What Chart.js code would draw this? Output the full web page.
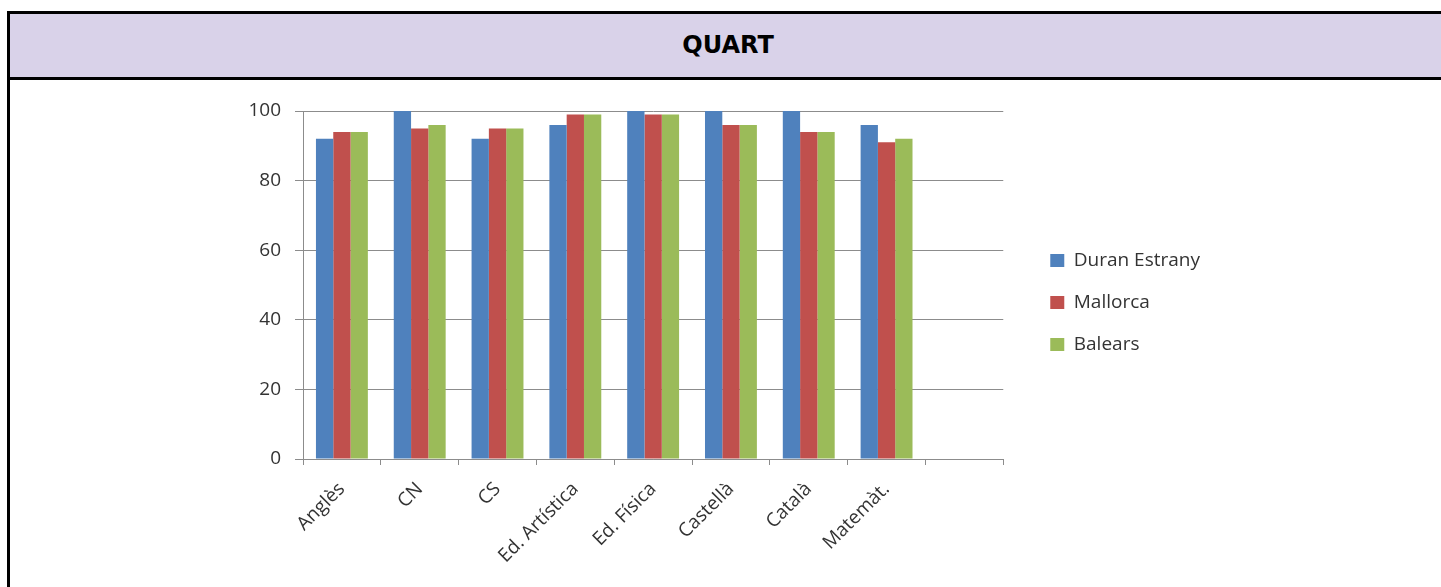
<!DOCTYPE html>
<html>
<head>
<meta charset="utf-8">
<script src="https://cdn.jsdelivr.net/npm/chart.js@4/dist/chart.umd.min.js"></script>
<style>
    body { margin: 0; background: #fff; overflow: hidden; }
    #box {
        position: absolute; left: 7px; top: 11px;
        width: 1436px; height: 620px;
        border: 3px solid #000;
    }
    #head {
        height: 63px; background: #d9d2e9;
        border-bottom: 3px solid #000;
        text-align: center;
        font: bold 24px "DejaVu Sans", sans-serif; color: #000;
        line-height: 63px;
    }
    #wrap { position: absolute; left: 200px; top: 82px; width: 1010px; height: 505px; }
</style>
</head>
<body>
<div id="box"><div id="head">QUART</div></div>
<div id="wrap"><canvas id="chart1"></canvas></div>
<script>
const subjects = ["Anglès", "CN", "CS", "Ed. Artística", "Ed. Física", "Castellà", "Català", "Matemàt.", ""];
const duranEstrany = [92, 100, 92, 96, 100, 100, 100, 96, null];
const mallorca = [94, 95, 95, 99, 99, 96, 94, 91, null];
const balears = [94, 96, 95, 99, 99, 96, 94, 92, null];
const yTicks = [0, 20, 40, 60, 80, 100];

const gridGray = "#8c8c8c";
const textGray = "#333333";
const font19 = { family: "'Open Sans', sans-serif", size: 19 };

function drawChart() {
    const ctx = document.getElementById("chart1");
    new Chart(ctx, {
        type: "bar",
        data: {
            labels: subjects,
            datasets: [
                { label: "Duran Estrany", data: duranEstrany, backgroundColor: "#4f81bd" },
                { label: "Mallorca", data: mallorca, backgroundColor: "#c0504d" },
                { label: "Balears", data: balears, backgroundColor: "#9bbb59" }
            ]
        },
        options: {
            responsive: true,
            maintainAspectRatio: false,
            animation: false,
            datasets: { bar: { barPercentage: 1, categoryPercentage: 0.667 } },
            layout: { padding: { top: 29, left: 0, right: 0, bottom: 0 } },
            scales: {
                x: {
                    grid: { display: true, drawOnChartArea: false, offset: true, color: gridGray, tickLength: 6 },
                    border: { display: true, color: gridGray },
                    ticks: { color: textGray, font: font19, padding: 13, minRotation: 45, maxRotation: 45, autoSkip: false },
                    afterFit: function (s) { s.height = 128; }
                },
                y: {
                    min: 0,
                    max: 100,
                    afterBuildTicks: function (s) { s.ticks = yTicks.map(v => ({ value: v })); },
                    grid: { color: gridGray, tickLength: 8 },
                    border: { display: true, color: gridGray },
                    ticks: { color: textGray, font: font19, padding: 14 },
                    afterFit: function (s) { s.width = 103; }
                },
                spacer: {
                    position: "right",
                    display: true,
                    grid: { display: false },
                    border: { display: false },
                    ticks: { display: false },
                    afterFit: function (s) { s.width = 24; }
                }
            },
            plugins: {
                tooltip: { enabled: false },
                legend: {
                    position: "right",
                    align: "center",
                    fullSize: false,
                    maxWidth: 300,
                    title: { display: true, text: " ", font: { size: 10, lineHeight: 1 }, padding: { top: 25, bottom: 0 } },
                    labels: { boxWidth: 14, boxHeight: 13, padding: 23, color: textGray, font: font19 }
                }
            }
        }
    });
}
drawChart();
</script>
</body>
</html>
